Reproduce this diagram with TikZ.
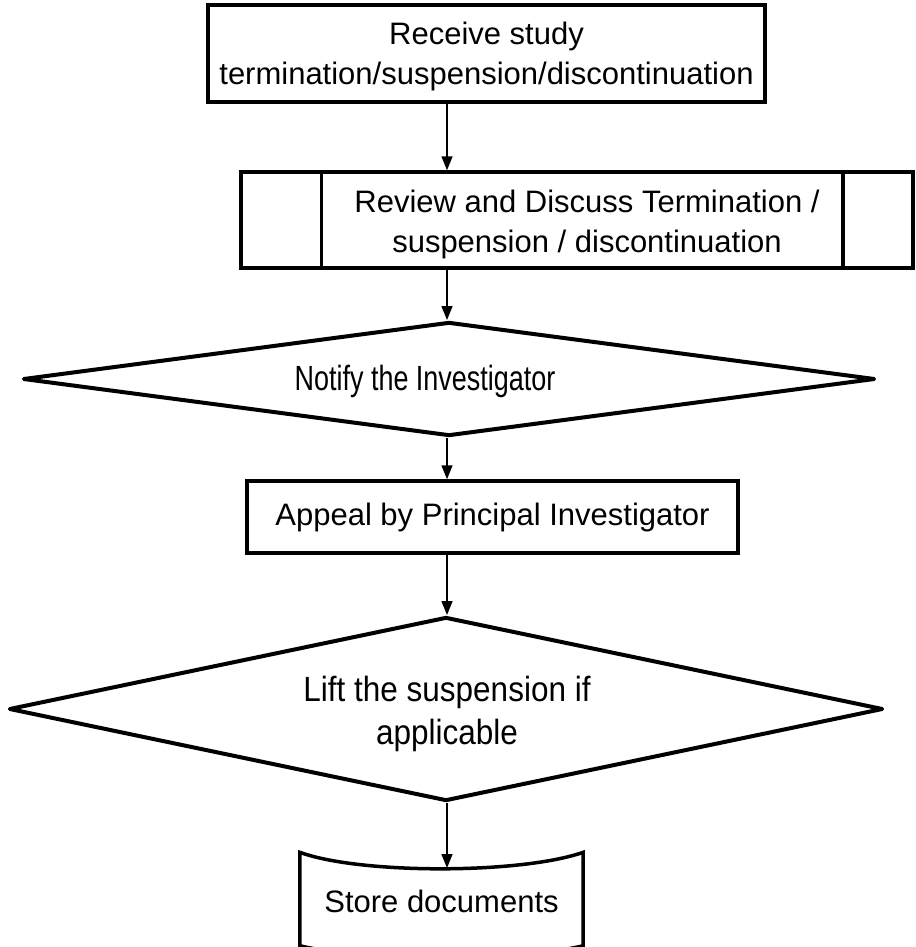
\documentclass[tikz,border=0pt]{standalone}
\usepackage{fontspec}
\setmainfont{Liberation Sans}
\newfontfamily\narrowsans[FakeStretch=0.77]{Liberation Sans}
\newfontfamily\narrowersans[FakeStretch=0.9]{Liberation Sans}
\usetikzlibrary{shapes.geometric,arrows.meta}
\begin{document}
\begin{tikzpicture}[x=1pt,y=-1pt,
  txt/.style={align=center,inner sep=0pt,font=\fontsize{31}{40}\selectfont},
  box/.style={txt,draw,line width=3.5pt,rectangle},
  diam/.style={draw,line width=4pt,line join=round,diamond,inner sep=0pt},
  arr/.style={line width=1.5pt,-{Triangle[length=14pt,width=11pt]}},
  docline/.style={line width=3.5pt,line join=miter}]
\useasboundingbox (0,0) rectangle (915,947);
\coordinate (spine) at (447,0);

% receive step
\node[box,minimum width=557pt,minimum height=97pt] (recv) at (486.5,53.5) {};
\node[txt] (recvtext) at (486.5,56) {Receive study\\termination/suspension/discontinuation};

% predefined process: review
\node[box,minimum width=672pt,minimum height=96pt] (review) at (577,220) {};
\draw[line width=3.5pt] ([xshift=82pt]review.north west) -- ([xshift=82pt]review.south west);
\draw[line width=3.5pt] ([xshift=-72pt]review.north east) -- ([xshift=-72pt]review.south east);
\node[txt] (reviewtext) at (587,224.5) {Review and Discuss Termination /\\suspension / discontinuation};

% notify decision
\node[diam,minimum width=852pt,minimum height=114pt] (notify) at (449,379) {};
\node[txt,font=\narrowsans\fontsize{35}{43}\selectfont] (notifytext) at (425,381) {Notify the Investigator};

% appeal step
\node[box,minimum width=491pt,minimum height=72pt] (appeal) at (492.5,517)
  {Appeal by Principal Investigator};

% lift decision
\node[diam,minimum width=874pt,minimum height=184pt] (lift) at (446,709) {};
\node[txt,font=\narrowersans\fontsize{35}{43}\selectfont] (lifttext) at (447,714)
  {Lift the suspension if\\applicable};

% stored document
\node[txt,minimum width=283pt,minimum height=83pt] (store) at (441.5,901) {Store documents};
\draw[docline] (store.north west) ++(0,-7)
  .. controls +(60,22) and +(-63,22) .. ([yshift=7pt]store.north east)
  -- ([yshift=-3pt]store.south east)
  .. controls +(-60,15) and +(60,15) .. ([yshift=-3pt]store.south west) -- cycle;
\coordinate (storein) at (447,868);

% connectors
\draw[arr] (recv.south -| spine) -- (review.north -| spine);
\draw[arr] (review.south -| spine) -- (notify.north -| spine);
\draw[arr] (notify.south -| spine) -- (appeal.north -| spine);
\draw[arr] (appeal.south -| spine) -- (lift.north -| spine);
\draw[arr] (lift.south -| spine) -- (storein);
\end{tikzpicture}
\end{document}
